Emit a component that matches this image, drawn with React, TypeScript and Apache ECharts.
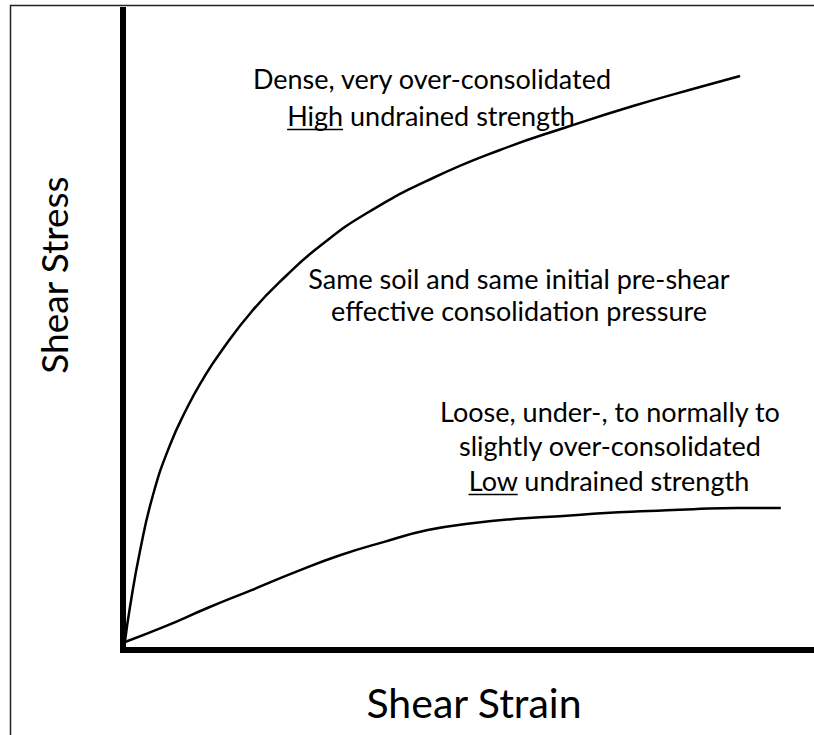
import React, { useEffect, useRef } from "react";
import * as echarts from "echarts";

// Dense, very over-consolidated soil (upper curve)
const denseStrain = [0.29, 1.01, 2.46, 4.34, 6.8, 9.26, 11.58, 14.04, 18.81, 23.73, 28.51, 35.31, 44.86, 54.56, 64.25, 73.81, 83.5, 89.3];
const denseStress = [1.41, 6.72, 15.47, 24.22, 32.03, 37.81, 42.34, 46.41, 53.13, 58.59, 63.13, 68.28, 73.75, 78.13, 81.72, 85.0, 87.97, 89.69];

// Loose, under- to normally consolidated soil (lower curve)
const looseStrain = [0.29, 5.9, 12.3, 18.7, 25.0, 31.4, 37.8, 44.1, 50.5, 56.9, 63.2, 69.8, 76.1, 82.5, 88.9, 95.2];
const looseStress = [1.25, 3.6, 6.6, 9.4, 12.2, 14.8, 16.9, 18.75, 19.8, 20.5, 20.9, 21.4, 21.7, 22.0, 22.2, 22.2];

const xTitle = "Shear Strain";
const yTitle = "Shear Stress";
const denseText = ["Dense, very over-consolidated", "High undrained strength"];
const denseUnderlined = "High";
const middleText = ["Same soil and same initial pre-shear", "effective consolidation pressure"];
const looseText = ["Loose, under-, to normally to", "slightly over-consolidated", "Low undrained strength"];
const looseUnderlined = "Low";

const FONT = "Lato, 'Open Sans', sans-serif";
const ANN_SIZE = 27;

function measure(text: string, size: number): number {
  const c = document.createElement("canvas").getContext("2d");
  if (!c) return text.length * size * 0.5;
  c.font = `${size}px ${FONT}`;
  return c.measureText(text).width;
}

export default function App() {
  const ref = useRef<HTMLDivElement>(null);

  useEffect(() => {
    if (!ref.current) return;
    const chart = echarts.init(ref.current, undefined, { renderer: "svg" });

    const textStyle = (size: number) => ({
      fill: "#000",
      fontSize: size,
      fontFamily: FONT,
      align: "center",
      verticalAlign: "middle",
    });

    const line = (t: string, x: number, y: number) => ({
      type: "text",
      x,
      y,
      style: { ...textStyle(ANN_SIZE), text: t },
      silent: true,
    });

    const underline = (full: string, word: string, cx: number, cy: number) => {
      const W = measure(full, ANN_SIZE);
      const w = measure(word, ANN_SIZE);
      const x0 = cx - W / 2;
      const y = Math.round(cy + ANN_SIZE * 0.5) + 0.5;
      return {
        type: "line",
        shape: { x1: x0, y1: y, x2: x0 + w, y2: y },
        style: { stroke: "#000", lineWidth: 1.5 },
        silent: true,
      };
    };

    chart.setOption({
      animation: false,
      backgroundColor: "#fff",
      grid: { left: 123, top: 10, right: 0, bottom: 85, containLabel: false },
      xAxis: {
        type: "value",
        min: 0,
        max: 100,
        axisLine: { show: true, lineStyle: { color: "#000", width: 6, cap: "square" } },
        axisTick: { show: false },
        axisLabel: { show: false },
        splitLine: { show: false },
      },
      yAxis: {
        type: "value",
        min: 0,
        max: 100,
        axisLine: { show: true, lineStyle: { color: "#000", width: 6, cap: "square" } },
        axisTick: { show: false },
        axisLabel: { show: false },
        splitLine: { show: false },
      },
      series: [
        {
          type: "line",
          name: "Dense",
          data: denseStrain.map((x, i) => [x, denseStress[i]]),
          showSymbol: false,
          smooth: 0.5,
          lineStyle: { color: "#000", width: 2.5 },
          silent: true,
        },
        {
          type: "line",
          name: "Loose",
          data: looseStrain.map((x, i) => [x, looseStress[i]]),
          showSymbol: false,
          smooth: 0.5,
          lineStyle: { color: "#000", width: 2.5 },
          silent: true,
        },
      ],
      graphic: [
        {
          type: "rect",
          shape: { x: 10.5, y: 5.5, width: 1000, height: 1000 },
          style: { fill: "none", stroke: "#222", lineWidth: 1.5 },
          silent: true,
        },
        line(denseText[0], 432, 78),
        line(denseText[1], 431, 115),
        underline(denseText[1], denseUnderlined, 431, 115),
        line(middleText[0], 519, 278),
        line(middleText[1], 519, 310),
        line(looseText[0], 610, 411),
        line(looseText[1], 610, 445),
        line(looseText[2], 609, 480),
        underline(looseText[2], looseUnderlined, 609, 480),
        {
          type: "text",
          x: 474,
          y: 702,
          style: { ...textStyle(41), text: xTitle },
        },
        {
          type: "text",
          x: 53,
          y: 275,
          rotation: Math.PI / 2,
          style: { ...textStyle(37), text: yTitle },
        },
      ],
    });

    return () => chart.dispose();
  }, []);

  return (
    <div
      ref={ref}
      style={{ position: "fixed", left: 0, top: 0, width: 814, height: 735, background: "#fff" }}
    />
  );
}
